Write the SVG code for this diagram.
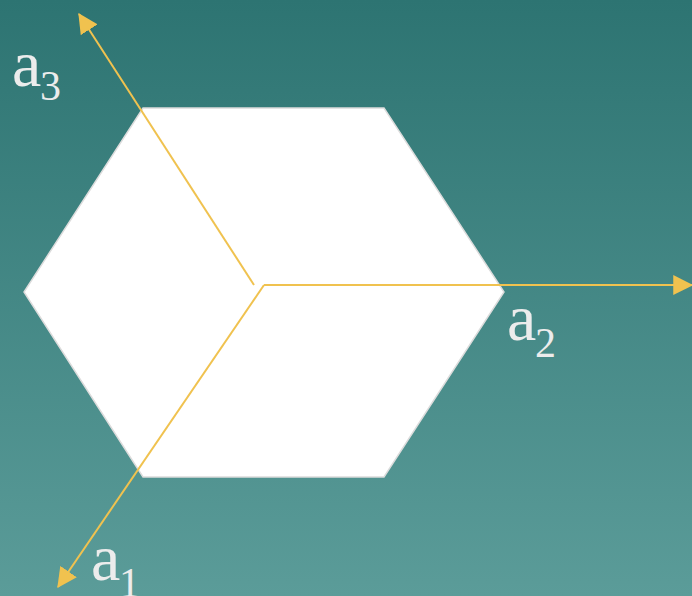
<svg xmlns="http://www.w3.org/2000/svg" width="692" height="596" viewBox="0 0 692 596">
<defs>
<linearGradient id="bg" x1="0" y1="0" x2="0" y2="1">
<stop offset="0" stop-color="#2d7472"/>
<stop offset="1" stop-color="#5b9c99"/>
</linearGradient>
<marker id="arr" markerUnits="userSpaceOnUse" markerWidth="20" markerHeight="20" viewBox="0 0 16 16" refX="15" refY="8" orient="auto">
<path d="M0,0 L16,8 L0,16 Z" fill="#f0c24f"/>
</marker>
<style>
.ax{stroke:#f0c24f;stroke-width:2;fill:none}
.lb{font-family:"Liberation Serif","Times New Roman",serif;fill:#ececec}
.m{font-size:66px}
.s{font-size:42px}
</style>
</defs>
<rect width="692" height="596" fill="url(#bg)"/>
<g id="hexagon">
<polygon points="143,108 384,108 504,292 384,477 143,477 24,292" fill="#ffffff" stroke="#dcdcdc" stroke-width="1.5"/>
</g>
<g id="connectors">
<line class="ax" x1="254" y1="285" x2="79" y2="14" marker-end="url(#arr)"/>
<line class="ax" x1="264" y1="285" x2="692" y2="285" marker-end="url(#arr)"/>
<line class="ax" x1="264" y1="285" x2="58" y2="587" marker-end="url(#arr)"/>
</g>
<g id="label-a3">
<text class="lb m" x="12" y="86">a</text><text class="lb s" x="40" y="100">3</text>
</g>
<g id="label-a2">
<text class="lb m" x="507" y="340">a</text><text class="lb s" x="535" y="357">2</text>
</g>
<g id="label-a1">
<text class="lb m" x="91" y="580">a</text><text class="lb s" x="119" y="597">1</text>
</g>
</svg>
